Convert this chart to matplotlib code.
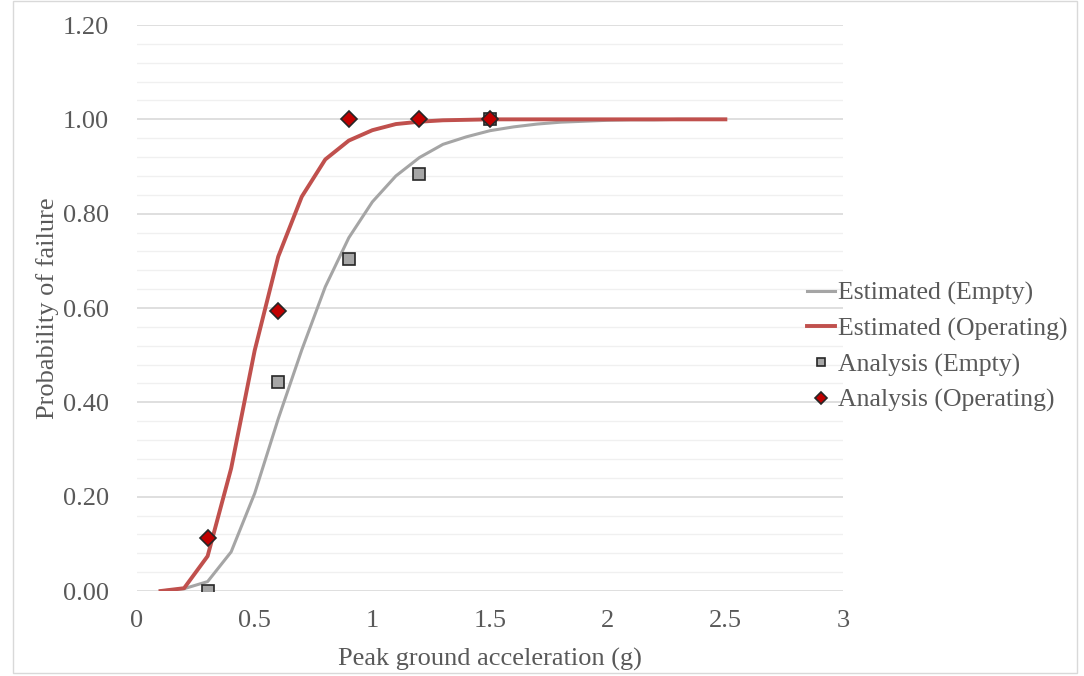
import numpy as np
import matplotlib.pyplot as plt
from matplotlib.ticker import MultipleLocator, FormatStrFormatter

plt.rcParams['font.family'] = ['Liberation Serif', 'DejaVu Serif']

# estimated fragility curves
pga_curve = [0.1, 0.2, 0.3, 0.4, 0.5, 0.6, 0.7, 0.8, 0.9, 1.0, 1.1, 1.2, 1.3,
             1.4, 1.5, 1.6, 1.7, 1.8, 1.9, 2.0, 2.1, 2.2, 2.3, 2.4, 2.5]
est_empty = [0.0, 0.005, 0.02, 0.083, 0.207, 0.365, 0.511, 0.645, 0.749, 0.825,
             0.88, 0.919, 0.947, 0.963, 0.976, 0.984, 0.99, 0.994, 0.996, 0.998,
             0.999, 0.999, 1.0, 1.0, 1.0]
est_oper = [0.0, 0.006, 0.074, 0.26, 0.51, 0.709, 0.836, 0.915, 0.955, 0.977,
            0.99, 0.995, 0.998, 0.999, 1.0, 1.0, 1.0, 1.0, 1.0, 1.0,
            1.0, 1.0, 1.0, 1.0, 1.0]

# analysis results
pga_pts = [0.3, 0.6, 0.9, 1.2, 1.5]
ana_empty = [0.0, 0.443, 0.703, 0.884, 1.0]
ana_oper = [0.112, 0.593, 1.0, 1.0, 1.0]

txt = '#595959'
fs = 19

fig = plt.figure(figsize=(10.84, 6.76), dpi=100)
ax = fig.add_axes([0.1264, 0.1257, 0.6513, 0.8373])

ax.plot(pga_curve, est_empty, color='#a5a5a5', lw=2.2, label='Estimated (Empty)', zorder=3)
ax.plot(pga_curve, est_oper, color='#c0504d', lw=2.8, label='Estimated (Operating)', zorder=3)
ax.plot(pga_pts, ana_empty, ls='none', marker='s', ms=8.5, mfc='#a6a6a6', mec='#262626',
        mew=1.2, label='Analysis (Empty)', zorder=4)
ax.plot(pga_pts, ana_oper, ls='none', marker='D', ms=8.5, mfc='#c00000', mec='#262626',
        mew=1.2, label='Analysis (Operating)', zorder=5)

ax.set_xlim(0, 3)
ax.set_ylim(0, 1.2)
ax.yaxis.set_major_locator(MultipleLocator(0.2))
ax.yaxis.set_minor_locator(MultipleLocator(0.04))
ax.yaxis.set_major_formatter(FormatStrFormatter('%.2f'))
ax.set_xticks([0, 0.5, 1, 1.5, 2, 2.5, 3])
ax.set_xticklabels(['0', '0.5', '1', '1.5', '2', '2.5', '3'])

ax.grid(axis='y', which='major', color='#d9d9d9', lw=1.2)
ax.grid(axis='y', which='minor', color='#f0f0f0', lw=1.0)
ax.set_axisbelow(True)
for s in ax.spines.values():
    s.set_visible(False)
ax.tick_params(axis='both', which='both', length=0, labelsize=fs, colors=txt)
ax.tick_params(axis='y', pad=20)
ax.tick_params(axis='x', pad=14)

ax.set_xlabel('Peak ground acceleration (g)', fontsize=fs, color=txt, labelpad=11)
ax.set_ylabel('Probability of failure', fontsize=fs, color=txt, labelpad=3)

leg = ax.legend(loc='center left', bbox_to_anchor=(0.949, 0.431), frameon=False,
                fontsize=18.5, handlelength=1.1, handletextpad=0.1, labelspacing=0.48,
                borderaxespad=0, borderpad=0, markerscale=0.75)
for t in leg.get_texts():
    t.set_color(txt)

# thin frame around the chart area
fig.patches.append(plt.Rectangle((0.012, 0.005), 0.982, 0.993, transform=fig.transFigure,
                                 fill=False, ec='#d9d9d9', lw=1))

fig.savefig('out.png', dpi=100)
